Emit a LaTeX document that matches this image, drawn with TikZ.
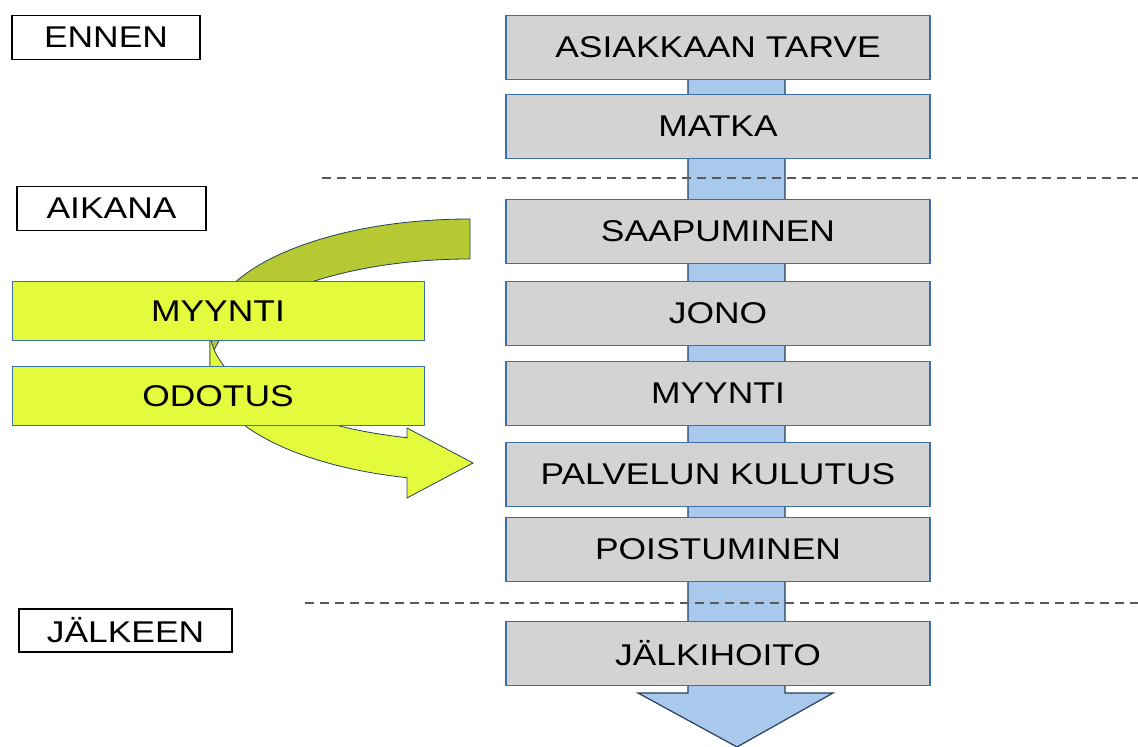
\documentclass[tikz,border=0pt]{standalone}
\usepackage{fontspec}
\setmainfont{Liberation Sans}[FakeStretch=1.18]
\usepackage{xcolor}
\usetikzlibrary{positioning}
\definecolor{boxgray}{HTML}{D3D3D3}
\definecolor{boxline}{HTML}{3C6FA8}
\definecolor{flowblue}{HTML}{A8C9EC}
\definecolor{flowline}{HTML}{24405E}
\definecolor{limefill}{HTML}{E4FA3C}
\definecolor{olivefill}{HTML}{B6C832}
\tikzset{%
	phase/.style   = {draw=black, line width=1.6pt, fill=white, rectangle, minimum height=44pt, inner sep=0pt}, % time label
	stage/.style   = {draw=boxline, line width=1.6pt, fill=boxgray, rectangle, minimum width=424pt, minimum height=64pt, text centered},
	choice/.style  = {draw=boxline, line width=1pt, fill=limefill, rectangle, minimum width=412pt, minimum height=59pt, text centered},
	divider/.style = {draw=gray!70!black, line width=1.8pt, dash pattern=on 9pt off 6pt},
	flow/.style    = {draw=flowline, line width=1.2pt, fill=flowblue},
	band/.style    = {draw=flowline, line width=0.8pt},
}
\begin{document}
\begin{tikzpicture}[x=1pt, y=1pt, font=\fontsize{30}{36}\selectfont]
	\useasboundingbox (0,0) rectangle (1138,747);

	% blue flow arrow behind the column
	\draw[flow] (688,680) -- (688,54) -- (638,54) -- (737,0) -- (833,54) -- (785,54) -- (785,680) -- cycle;
	\draw[divider] (322,569) -- (1138,569);
	\draw[divider] (305,144) -- (1138,144);

	\node[phase, minimum width=188pt] (ennen) at (106,709.5) {ENNEN};
	\node[phase, minimum width=189pt] (aikana) at (111.5,538.5) {AIKANA};
	\node[phase, minimum width=213pt, minimum height=43pt] (jalkeen) at (125.5,116.5) {JÄLKEEN};

	\node[stage] (tarve) at (718,699.5) {ASIAKKAAN TARVE};
	\node[stage, below=13.4pt of tarve] (matka) {MATKA};
	\node[stage, below=39.4pt of matka] (saapu) {SAAPUMINEN};
	\node[stage, below=16.4pt of saapu] (jono) {JONO};
	\node[stage, below=14.4pt of jono] (myynti) {MYYNTI};
	\node[stage, below=15.4pt of myynti] (kulutus) {PALVELUN KULUTUS};
	\node[stage, below=9.4pt of kulutus] (poistu) {POISTUMINEN};
	\node[stage, below=38.4pt of poistu] (jalki) {JÄLKIHOITO};

	% curved arrow: back of the ribbon, then front with head
	\draw[band, fill=olivefill] (470,528) arc[start angle=90, end angle=180, x radius=260pt, y radius=111pt]
		-- (210,377) arc[start angle=180, end angle=90, x radius=260pt, y radius=111pt] -- cycle;
	\draw[band, fill=limefill] (210,417) arc[start angle=180, end angle=256, x radius=260pt, y radius=111pt]
		-- (407,319) -- (473,284) -- (407,249) -- (407,269.3)
		arc[start angle=256, end angle=180, x radius=260pt, y radius=111pt] -- cycle;

	\node[choice] (myyntiL) at (218,436) {MYYNTI};
	\node[choice, below=25pt of myyntiL] (odotus) {ODOTUS};
\end{tikzpicture}
\end{document}
